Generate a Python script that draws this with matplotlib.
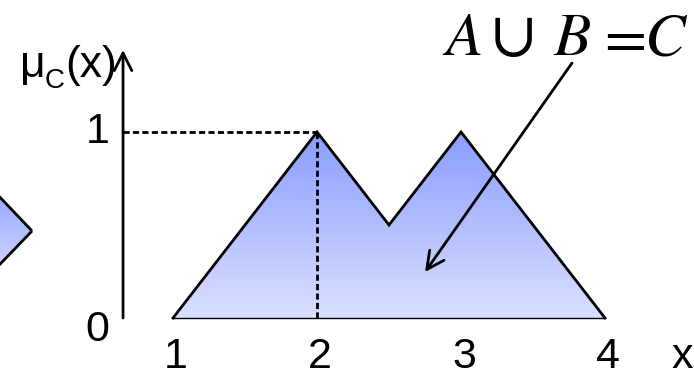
import numpy as np
import matplotlib
matplotlib.use("Agg")
import matplotlib.pyplot as plt
from matplotlib.patches import Polygon
from matplotlib.colors import to_rgb

plt.rcParams["font.family"] = ["Liberation Sans", "DejaVu Sans"]
plt.rcParams["mathtext.fontset"] = "stix"

# union membership function C = A u B
union_x = [1, 2, 2.5, 3, 4]
union_y = [0, 1, 0.5, 1, 0]

# partly visible diamond at the left edge
diamond_x = [0.021, -0.35, -0.72, -0.35]
diamond_y = [0.468, 0.77, 0.468, 0.17]

xticks = [1, 2, 3, 4]
xtick_labels = ["1", "2", "3", "4"]
yticks = [0, 1]
ytick_labels = ["0", "1"]

# title pieces, their left edges (data x) and sizes
title_parts = [r"$A$", r"$\cup$", r"$B$", r"$=$", r"$C$"]
title_left = [2.868, 3.205, 3.639, 3.94, 4.27]
title_size = [44, 50, 44, 44, 44]

TOP = "#8a9cff"
BOT = "#dbe0ff"

fig = plt.figure(figsize=(6.94, 3.76), dpi=100)
ax = fig.add_axes([0, 0, 1, 1])
ax.set_xlim(-0.2014, 4.618)
ax.set_ylim(-0.3118, 1.7097)
ax.axis("off")

x0 = 0.653  # where the axes cross
LW = 2.0


def gradient_fill(xs, ys, z=2):
    poly = Polygon(np.column_stack([xs, ys]), closed=True, facecolor="none",
                   edgecolor="none")
    ax.add_patch(poly)
    t = np.linspace(0, 1, 256)[:, None]
    c0, c1 = np.array(to_rgb(TOP)), np.array(to_rgb(BOT))
    img = (c0 * (1 - t) + c1 * t)[:, None, :]
    im = ax.imshow(img, extent=[min(xs), max(xs), min(ys), max(ys)],
                   origin="upper", aspect="auto", zorder=z, interpolation="bilinear")
    im.set_clip_path(poly)


arr = dict(arrowstyle="->,head_length=0.7,head_width=0.35", lw=LW,
           color="black", shrinkA=0, shrinkB=0, mutation_scale=18)

# axes with open arrowheads
ax.annotate("", xy=(x0, 1.441), xytext=(x0, 0), arrowprops=arr, zorder=1)
ax.annotate("", xy=(4.63, 0), xytext=(x0, 0), arrowprops=arr, zorder=1)

# diamond
gradient_fill(diamond_x, diamond_y)
ax.add_patch(Polygon(np.column_stack([diamond_x, diamond_y]), closed=True,
                     facecolor="none", edgecolor="black", lw=LW, zorder=3))

# union shape
gradient_fill(union_x, union_y)
ax.plot(union_x, union_y, color="black", lw=LW, zorder=3,
        solid_joinstyle="miter")
ax.plot([union_x[0], union_x[-1]], [0, 0], color="black", lw=1.0, zorder=3)

# dashed guides to the peak at x=2
ax.plot([x0, 2], [1, 1], color="black", lw=LW, ls=(0, (2.2, 1.2)), zorder=3)
ax.plot([2, 2], [0, 1], color="black", lw=LW, ls=(0, (2.2, 1.2)), zorder=3)

# tick labels
for xv, lab in zip(xticks, xtick_labels):
    ax.text(xv + 0.02, -0.27, lab, fontsize=31, ha="center", va="baseline")
ax.text(4.535, -0.27, "x", fontsize=31, ha="center", va="baseline")
ax.text(0.475, -0.124, ytick_labels[0], fontsize=31, ha="center", va="baseline")
ax.text(0.475, 0.941, ytick_labels[1], fontsize=31, ha="center", va="baseline")

# y-axis label  muC(x)
ax.text(-0.0625, 1.296, "μ", fontsize=32, ha="left", va="baseline")
ax.text(0.108, 1.237, "C", fontsize=20, ha="left", va="baseline")
ax.text(0.255, 1.296, "(x)", fontsize=32, ha="left", va="baseline")

# title and pointer
for part, xl, fs in zip(title_parts, title_left, title_size):
    ax.text(xl, 1.414, part, fontsize=fs, ha="left", va="baseline")
ax.annotate("", xy=(2.75, 0.247), xytext=(3.771, 1.371), arrowprops=arr, zorder=4)

fig.savefig("out.png", dpi=100)
